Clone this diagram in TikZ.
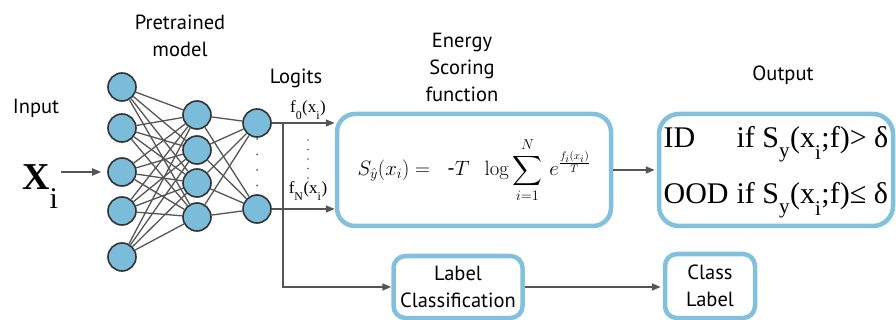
\documentclass[tikz,border=0pt]{standalone}
\usepackage{amsmath}
\usepackage[no-math]{fontspec}
\setmainfont{PT Sans}
\newfontfamily\seriffont{Liberation Serif}
\usetikzlibrary{arrows.meta,positioning,calc}
\definecolor{neuronblue}{HTML}{7BBCDB}
\definecolor{boxblue}{HTML}{82C0DD}
\definecolor{linegray}{HTML}{555555}
\newcommand{\lowsub}[1]{\raisebox{-0.22em}{\textsubscript{#1}}}

\begin{document}
\begin{tikzpicture}[x=1pt, y=-1pt,
  neuron/.style={circle, draw=black!80, fill=neuronblue, line width=1.6pt, minimum size=28pt, inner sep=0pt},
  conn/.style={linegray, line width=1.3pt},
  arrow/.style={-{Triangle[length=9pt,width=7pt]}, linegray, line width=1.8pt},
  block/.style={rectangle, rounded corners=18pt, draw=boxblue, line width=4.5pt, align=center, fill=white, inner sep=0pt},
  title/.style={font=\fontsize{20.5}{27}\selectfont, align=center}
]
\useasboundingbox (0,0) rectangle (896,320);

% network
\foreach \y [count=\i] in {87,128,172,211,257}
  \node[neuron] (in\i) at (122,\y) {};
\foreach \y [count=\j] in {115,150,183,217}
  \node[neuron] (hid\j) at (197,\y) {};
\node[neuron] (logit1) at (257,123) {};
\node[neuron] (logit2) at (257,209) {};
\foreach \i in {1,...,5}
  \foreach \j in {1,...,4}
    \draw[conn] (in\i) -- (hid\j);
\foreach \j in {1,...,4}
  \foreach \k in {1,2}
    \draw[conn] (hid\j) -- (logit\k);
\coordinate (dtop) at (257,139);
\coordinate (dbot) at (257,186);
\draw[linegray, line width=2pt, line cap=round, dash pattern=on 0pt off 15.5pt] (dtop) -- (dbot);

% titles
\node[title] (inlbl) at (36,108) {Input};
\node[title] (pretr) at (180,36) {Pretrained\\model};
\node[title] (logits) at (296,78) {Logits};
\node[title] (energylbl) at (462,67) {Energy\\Scoring\\function};
\node[title] (outlbl) at (783,75) {Output};

% input
\node (xin) at (40,187) {\seriffont\fontsize{38}{38}\selectfont\textbf{X}\raisebox{-19pt}{\fontsize{30}{30}\selectfont i}};
\draw[arrow] (xin.east |- in3) -- ([xshift=-6pt]in3.west);

% boxes
\node[block, minimum width=274pt, minimum height=112pt] (energy) at (474,170)
  {\fontsize{21}{24}\selectfont $\displaystyle S_{\hat{y}}(x_i) = \;\; \mbox{-}T \;\; \log\sum_{i=1}^{N} \, e^{\frac{f_i(x_i)}{T}}$};
\node[block, minimum width=234pt, minimum height=112pt, rounded corners=20pt] (output) at (776,170)
  {\seriffont\fontsize{30}{36}\selectfont
   \begin{tabular}{@{}l@{\hspace{8pt}}l@{}}
   ID & if S\lowsub{y}(x\lowsub{i};f)> δ\\[20pt]
   OOD & if S\lowsub{y}(x\lowsub{i};f)≤ δ
   \end{tabular}};
\node[block, minimum width=129pt, minimum height=62pt, rounded corners=12pt, title] (labelcls) at (458,287) {Label\\Classification};
\node[block, minimum width=90pt, minimum height=64pt, rounded corners=12pt, title] (classlbl) at (710,286) {Class\\Label};

% logits to boxes
\coordinate (split) at (283,287);
\draw[arrow] (logit1) -- (logit1 -| energy.west);
\draw[arrow] (logit2) -- (logit2 -| energy.west);
\node[font=\seriffont\fontsize{17}{17}\selectfont] (f0) at (308,110) {f\lowsub{0}(x\lowsub{i})};
\node[font=\seriffont\fontsize{17}{17}\selectfont] (fN) at (308,191) {f\lowsub{N}(x\lowsub{i})};
\coordinate (ftop) at (308,140);
\coordinate (fbot) at (308,178);
\draw[linegray, line width=1.8pt, line cap=round, dash pattern=on 0pt off 9.5pt] (ftop) -- (fbot);
\draw[arrow] (split |- logit1) -- (split) -- (labelcls);
\draw[arrow] (energy) -- ([xshift=-2pt]output.west);
\draw[arrow] (labelcls) -- ([xshift=-2pt]classlbl.west |- labelcls);
\end{tikzpicture}
\end{document}
